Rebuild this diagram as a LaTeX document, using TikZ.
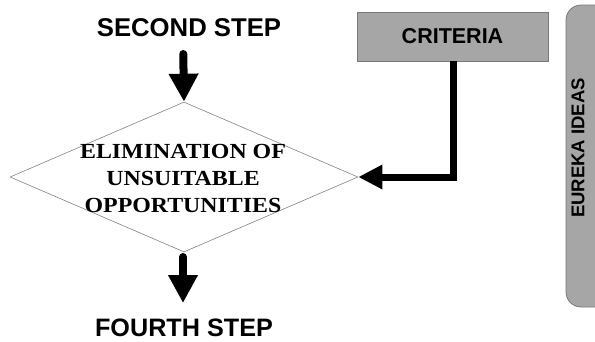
\documentclass[tikz,border=0pt]{standalone}
\usepackage{fontspec}
\setmainfont{Liberation Serif}
\setsansfont{Liberation Sans}
\usetikzlibrary{shapes.geometric,arrows.meta}
\definecolor{boxgray}{RGB}{166,166,166}
\definecolor{edgegray}{RGB}{120,120,120}
\definecolor{thingray}{RGB}{130,130,130}
\tikzset{
  steplabel/.style={font=\sffamily\bfseries, inner sep=0pt, anchor=base},
  bigarrow/.style={line width=8pt, line cap=round,
    -{Triangle[length=28pt,width=28pt]}},
  feedarrow/.style={line width=7pt, line join=miter,
    -{Triangle[length=24pt,width=23pt]}},
  graybox/.style={draw=edgegray, fill=boxgray, line width=0.8pt},
}
\begin{document}
\begin{tikzpicture}[x=1pt, y=-1pt]
  \useasboundingbox (0,0) rectangle (595,341);

  % decision diamond
  \node[diamond, draw=thingray, line width=0.6pt, minimum width=348pt,
        minimum height=150pt, inner sep=0pt] (dia) at (184,177) {};
  \node[font=\fontsize{21.5}{27}\selectfont\bfseries, align=center,
        inner sep=0pt, xscale=1.11, transform shape] (diatext) at (183,178)
        {ELIMINATION OF\\UNSUITABLE\\OPPORTUNITIES};

  % step labels
  \node[steplabel, font=\fontsize{25.7}{30}\selectfont\sffamily\bfseries]
        (second) at (189,36) {SECOND STEP};
  \node[steplabel, font=\fontsize{25.2}{30}\selectfont\sffamily\bfseries]
        (fourth) at (184,336.5) {FOURTH STEP};

  % criteria box
  \node[graybox, minimum width=191pt, minimum height=49pt, inner sep=0pt,
        font=\fontsize{21.5}{25}\selectfont\sffamily\bfseries]
        (criteria) at (452.5,36.5) {CRITERIA};

  % side banner
  \node[graybox, rounded corners=15pt, minimum width=58pt,
        minimum height=302pt, inner sep=0pt] (eureka) at (595,156) {};
  \node[rotate=90, inner sep=0pt,
        font=\fontsize{18.5}{22}\selectfont\sffamily\bfseries]
        (eurekatext) at (578,148) {EUREKA IDEAS};

  % flow arrows
  \draw[bigarrow, shorten <=18pt] (183,36) -- (dia.north);
  \coordinate (fourthtop) at (183,303);
  \draw[bigarrow] (183,257) -- (fourthtop);
  \draw[feedarrow] (criteria.south -| 453,0) |- (dia.east);
\end{tikzpicture}
\end{document}
